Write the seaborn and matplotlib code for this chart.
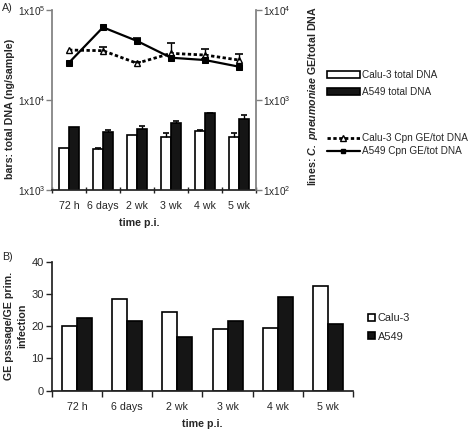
import numpy as np
import pandas as pd
import matplotlib
matplotlib.use("Agg")
import matplotlib.pyplot as plt
import matplotlib.patches as mpatches
import matplotlib.lines as mlines
from matplotlib.ticker import FixedLocator, NullLocator, FixedFormatter
import seaborn as sns

# ---- data ----
times = ["72 h", "6 days", "2 wk", "3 wk", "4 wk", "5 wk"]

# panel A bars: total DNA (ng/sample)
calu_dna = [2900, 2830, 4080, 3850, 4520, 3910]
calu_dna_err = [0, 120, 0, 420, 130, 420]
a549_dna = [5050, 4370, 4760, 5500, 7100, 6150]
a549_dna_err = [0, 310, 420, 390, 100, 660]

# panel A lines: C. pneumoniae GE / total DNA
calu_cpn = [3590, 3530, 2560, 3300, 3160, 2780]
calu_cpn_err = [0, 320, 60, 960, 500, 430]
a549_cpn = [2600, 6420, 4530, 2950, 2780, 2345]
a549_cpn_err = [0, 0, 310, 0, 80, 0]

# panel B: GE passage / GE primary infection
calu_ratio = [20.1, 28.3, 24.3, 19.0, 19.5, 32.4]
a549_ratio = [22.6, 21.7, 16.7, 21.7, 29.1, 20.6]

sns.set_theme(style="ticks")
plt.rcParams["font.family"] = ["Liberation Sans", "DejaVu Sans"]
plt.rcParams["mathtext.fontset"] = "custom"
plt.rcParams["mathtext.rm"] = "Liberation Sans"
plt.rcParams["mathtext.it"] = "Liberation Sans:italic"
plt.rcParams["mathtext.bf"] = "Liberation Sans:bold"
plt.rcParams["mathtext.bfit"] = "Liberation Sans:italic:bold"

FS = 7.7
DARK = "#222222"
GREY = "#808080"
palette = {"Calu-3": "white", "A549": "#151515"}


def up_errorbars(ax, xs, ys, errs, capsize=3):
    xs, ys, errs = np.asarray(xs), np.asarray(ys), np.asarray(errs)
    keep = errs > 0
    if not keep.any():
        return
    eb = ax.errorbar(xs[keep], ys[keep], yerr=[np.zeros(keep.sum()), errs[keep]],
                     fmt="none", ecolor="black", elinewidth=1.0, capsize=capsize,
                     capthick=1.2, zorder=4)
    eb[1][0].set_visible(False)


def cat_axis(ax, n, tick_dir):
    ax.set_xlim(-0.5, n - 0.5)
    ax.xaxis.set_major_locator(FixedLocator(range(n)))
    ax.xaxis.set_major_formatter(FixedFormatter(times))
    ax.xaxis.set_minor_locator(FixedLocator(np.arange(n + 1) - 0.5))
    ax.tick_params(axis="x", which="major", length=0, pad=8, labelsize=FS)
    ax.tick_params(axis="x", which="minor", length=4, width=1, direction=tick_dir, color=DARK)


fig = plt.figure(figsize=(4.77, 4.30), dpi=100)

# ---------------- panel A ----------------
axA = fig.add_axes([52 / 477, 1 - 190 / 430, 204 / 477, 180 / 430])
dna_df = pd.DataFrame({
    "time": times * 2,
    "line": ["Calu-3"] * 6 + ["A549"] * 6,
    "dna": calu_dna + a549_dna,
})
axA.set_yscale("log")
sns.barplot(data=dna_df, x="time", y="dna", hue="line", palette=palette,
            width=0.58, gap=0, edgecolor="black", linewidth=1.2,
            errorbar=None, legend=False, ax=axA)
for cont, errs in zip(axA.containers, [calu_dna_err, a549_dna_err]):
    xs = [b.get_x() + b.get_width() / 2 for b in cont]
    ys = [b.get_y() + b.get_height() for b in cont]
    up_errorbars(axA, xs, ys, errs, capsize=2.5)

axA.set_ylim(1e3, 1e5)
axA.yaxis.set_major_locator(FixedLocator([1e3, 1e4, 1e5]))
axA.yaxis.set_major_formatter(FixedFormatter([r"1x10$^{3}$", r"1x10$^{4}$", r"1x10$^{5}$"]))
axA.yaxis.set_minor_locator(NullLocator())
axA.tick_params(axis="y", length=4, width=1, color=GREY, pad=1, labelsize=FS - 0.5)
cat_axis(axA, len(times), "inout")
sns.despine(ax=axA, top=True, right=True)
axA.spines["left"].set_color(GREY)
axA.spines["bottom"].set_color(DARK)
axA.set_xlabel("time p.i.", fontsize=FS, fontweight="bold")
axA.xaxis.set_label_coords(0.43, -0.155)
axA.set_ylabel("bars: total DNA (ng/sample)", fontsize=FS, fontweight="bold")
axA.yaxis.set_label_coords(-0.18, 0.45)

axL = axA.twinx()
pos = np.arange(len(times))
sns.lineplot(x=pos, y=calu_cpn, ax=axL, color="black", marker="^", markersize=4.5,
             markerfacecolor="white", markeredgecolor="black", markeredgewidth=1,
             linewidth=2, dashes=(1.2, 0.9), errorbar=None)
sns.lineplot(x=pos, y=a549_cpn, ax=axL, color="black", marker="s", markersize=4,
             markerfacecolor="black", markeredgecolor="black",
             linewidth=1.6, errorbar=None)
up_errorbars(axL, pos, calu_cpn, calu_cpn_err, capsize=3)
up_errorbars(axL, pos, a549_cpn, a549_cpn_err, capsize=3)
axL.set_yscale("log")
axL.set_ylim(1e2, 1e4)
axL.yaxis.set_major_locator(FixedLocator([1e2, 1e3, 1e4]))
axL.yaxis.set_major_formatter(FixedFormatter([r"1x10$^{2}$", r"1x10$^{3}$", r"1x10$^{4}$"]))
axL.yaxis.set_minor_locator(NullLocator())
axL.tick_params(axis="y", length=4, width=1, color=GREY, pad=1, labelsize=FS - 0.5)
axL.set_xlim(-0.5, len(times) - 0.5)
for side in ["top", "left", "bottom"]:
    axL.spines[side].set_visible(False)
axL.spines["right"].set_color(GREY)
axL.set_ylabel(r"lines: $\mathbfit{C.\ pneumoniae}$ GE/total DNA",
               fontsize=FS, fontweight="bold")
axL.yaxis.set_label_coords(1.245, 0.52)

bar_handles = [
    mpatches.Patch(facecolor="white", edgecolor="black", linewidth=1.2),
    mpatches.Patch(facecolor="#151515", edgecolor="black", linewidth=1.2),
]
fig.legend(bar_handles, ["Calu-3 total DNA", "A549 total DNA"],
           loc="upper left", bbox_to_anchor=(327 / 477, 1 - 70 / 430),
           frameon=False, fontsize=7.2, borderpad=0, borderaxespad=0,
           handlelength=3.3, handleheight=0.8, handletextpad=0.2, labelspacing=0.7)
line_handles = [
    mlines.Line2D([], [], color="black", linewidth=2, dashes=(1.2, 0.9), marker="^",
                  markersize=4, markerfacecolor="white", markeredgecolor="black"),
    mlines.Line2D([], [], color="black", linewidth=1.6, marker="s", markersize=3.5),
]
fig.legend(line_handles, ["Calu-3 Cpn GE/tot DNA", "A549 Cpn GE/tot DNA"],
           loc="upper left", bbox_to_anchor=(327 / 477, 1 - 133.5 / 430),
           frameon=False, fontsize=7.2, borderpad=0, borderaxespad=0,
           handlelength=3.3, handletextpad=0.2, labelspacing=0.3)

# ---------------- panel B ----------------
axB = fig.add_axes([52 / 477, 1 - 390.7 / 430, 301 / 477, 129 / 430])
ratio_df = pd.DataFrame({
    "time": times * 2,
    "line": ["Calu-3"] * 6 + ["A549"] * 6,
    "ratio": calu_ratio + a549_ratio,
})
sns.barplot(data=ratio_df, x="time", y="ratio", hue="line", palette=palette,
            width=0.6, gap=0, edgecolor="black", linewidth=1.2,
            errorbar=None, ax=axB)
axB.set_ylim(0, 40)
axB.set_yticks([0, 10, 20, 30, 40])
axB.tick_params(axis="y", length=4, width=1, color=DARK, pad=2, labelsize=FS + 0.3)
cat_axis(axB, len(times), "out")
sns.despine(ax=axB, top=True, right=True)
axB.spines["left"].set_color(DARK)
axB.spines["bottom"].set_color(DARK)
axB.set_xlabel("time p.i.", fontsize=FS, fontweight="bold")
axB.xaxis.set_label_coords(0.5, -0.22)
axB.set_ylabel("GE psssage/GE prim.\ninfection", fontsize=FS, fontweight="bold",
               linespacing=1.35)
axB.yaxis.set_label_coords(-0.083, 0.5)
axB.legend(loc="upper left", bbox_to_anchor=(368 / 477, 1 - 313 / 430),
           bbox_transform=fig.transFigure, frameon=False, fontsize=FS + 0.2,
           borderpad=0, borderaxespad=0, handlelength=0.6, handleheight=0.6,
           handletextpad=0.3, labelspacing=0.8, title=None)

fig.text(2 / 477, 1 - 8 / 430, "A)", fontsize=FS, va="center", ha="left")
fig.text(2 / 477, 1 - 257 / 430, "B)", fontsize=FS, va="center", ha="left")

fig.savefig("out.png", dpi=100)
